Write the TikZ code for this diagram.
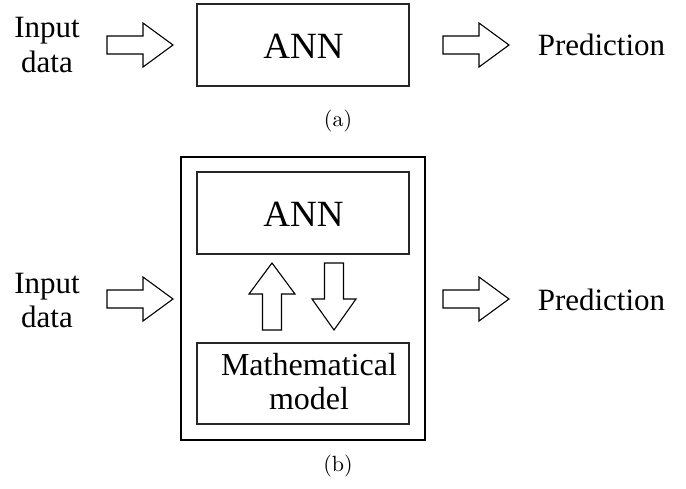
\documentclass[tikz,border=0pt]{standalone}
\usepackage{fontspec}
\newfontfamily\tnr{Liberation Serif}
\newfontfamily\lmten{lmroman10-regular.otf}
\newcommand\tx[2]{{\tnr\fontsize{#1}{#1}\selectfont #2}}
\begin{document}
\begin{tikzpicture}[x=1pt,y=-1pt,
  box/.style={draw=black!85,line width=1.2pt,inner sep=0pt},
  outer/.style={draw=black,line width=2.4pt,inner sep=0pt},
  blk/.style={draw=black,line width=1.1pt,line join=miter,fill=white},
  lbl/.style={anchor=base,inner sep=0pt},
  sublabel/.style={inner sep=0pt,font=\lmten\fontsize{22}{26}\selectfont},
  rarr/.pic={\draw[blk] (0,-9)--(36,-9)--(36,-22)--(66,0)--(36,22)--(36,9)--(0,9)--cycle;},
  uarr/.pic={\draw[blk] (0,0)--(23,31)--(9.5,31)--(9.5,67)--(-9.5,67)--(-9.5,31)--(-23,31)--cycle;},
  darr/.pic={\draw[blk] (-9.5,0)--(9.5,0)--(9.5,36)--(22,36)--(0,67)--(-22,36)--(-9.5,36)--cycle;}
]
\useasboundingbox (0,0) rectangle (686,488);
% (a)
\node[lbl] (inA1) at (47,37) {\tx{31}{Input}};
\node[lbl] (inA2) at (47,72) {\tx{31}{data}};
\pic at (107,45) {rarr};
\node[box,minimum width=212pt,minimum height=82pt] (annA) at (303,45) {};
\node[lbl] (annAt) at (303.5,58) {\tx{37}{ANN}};
\pic at (443,45) {rarr};
\node[lbl] (predA) at (601.5,55) {\tx{31}{Prediction}};
\node[sublabel] (capA) at (338,121) {(a)};
% (b)
\node[lbl] (inB1) at (47,293) {\tx{31}{Input}};
\node[lbl] (inB2) at (47,327) {\tx{31}{data}};
\pic at (107,299) {rarr};
\node[outer,minimum width=244pt,minimum height=283pt] (outB) at (303,298.5) {};
\node[box,minimum width=212pt,minimum height=82pt] (annB) at (303,213) {};
\node[lbl] (annBt) at (303.5,226) {\tx{37}{ANN}};
\pic at (272,263) {uarr};
\pic at (334,263) {darr};
\node[box,minimum width=212pt,minimum height=81pt] (mathB) at (303,383.5) {};
\node[lbl] (mathBt1) at (309,375) {\tx{32}{Mathematical}};
\node[lbl] (mathBt2) at (309,409) {\tx{32}{model}};
\pic at (443,299) {rarr};
\node[lbl] (predB) at (601.5,310) {\tx{31}{Prediction}};
\node[sublabel] (capB) at (338,466) {(b)};
\end{tikzpicture}
\end{document}
